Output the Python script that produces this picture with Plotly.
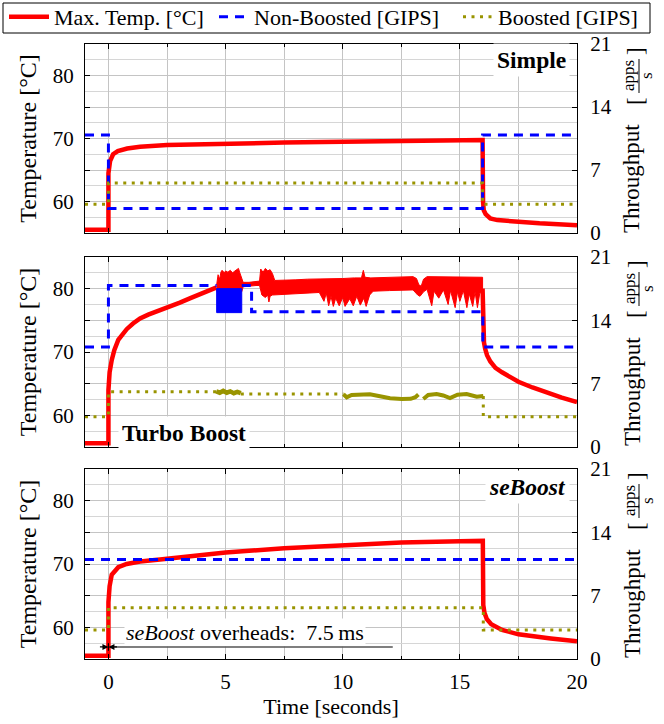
import plotly.graph_objects as go

# ---------------- data ----------------
# time axis limits [s]
time_range = [-1, 20]

# Simple
simple_temp_t = [-1, 0, 0, 0.07, 0.2, 0.4, 0.8, 1.35, 2.5, 5, 7.5, 10, 12.5, 15, 15.97,
                 15.99, 16.02, 16.1, 16.3, 16.6, 17, 18.4, 20]
simple_temp = [55.5, 55.5, 64.5, 66.4, 67.5, 68.0, 68.4, 68.7, 68.95, 69.2, 69.35, 69.5, 69.6, 69.7, 69.75,
               60.0, 58.6, 58.0, 57.3, 57.05, 56.9, 56.55, 56.25]
simple_nonboost_t = [-1, 0, 15.97, 20]
simple_nonboost = [10.9, 2.73, 10.9, 10.9]
simple_boost_t = [-1, 0, 15.97, 20]
simple_boost = [3.2, 5.56, 3.2, 3.2]

# Turbo Boost: smooth temperature before / after the oscillating phase
turbo_temp_rise_t = [-1, 0, 0, 0.05, 0.14, 0.25, 0.42, 0.6, 0.78, 1.05, 1.35, 1.7, 2, 2.5, 3.05, 3.5, 4, 4.62]
turbo_temp_rise = [55.6, 55.6, 64.0, 66.8, 68.7, 70.3, 71.9, 72.9, 73.6, 74.5, 75.3, 75.9, 76.3, 76.9, 77.8,
                   78.5, 79.3, 80.2]
turbo_temp_fall_t = [15.97, 16.0, 16.03, 16.08, 16.16, 16.3, 16.52, 16.8, 17.07, 17.5, 18.1, 18.7, 19.35, 20]
turbo_temp_fall = [80.0, 72.5, 71.5, 70.5, 69.5, 68.5, 67.5, 66.8, 66.2, 65.3, 64.4, 63.6, 62.8, 62.1]
# envelope of the oscillating temperature
turbo_upper_t = [4.62, 4.68, 4.75, 4.8, 4.85, 4.95, 5.0, 5.1, 5.2, 5.3, 5.4, 5.5, 5.55, 5.6, 5.69, 5.75,
                 6.0, 6.3, 6.45, 6.5, 6.6, 6.7, 6.8, 6.9, 7.0, 7.1, 7.5, 8.0, 8.5, 9.0, 9.5, 10.0, 10.5,
                 10.8, 10.88, 10.95, 11.2, 12.0, 13.0, 13.15, 13.25, 13.35, 13.45, 13.6, 14.0, 15.0, 15.97]
turbo_upper = [80.6, 82.2, 81.5, 82.6, 82.9, 82.5, 82.8, 82.6, 82.9, 82.5, 82.8, 83.0, 83.2, 82.6, 81.5, 81.0,
               81.0, 81.1, 81.2, 83.1, 82.6, 83.2, 82.8, 83.0, 82.4, 81.3, 81.3, 81.4, 81.5, 81.5, 81.6, 81.6, 81.7,
               81.7, 82.9, 81.8, 81.7, 81.8, 81.9, 81.6, 80.6, 80.4, 81.5, 81.9, 81.9, 81.9, 81.8]
turbo_lower_t = [4.62, 4.7, 4.8, 4.9, 5.0, 5.69, 5.75, 6.0, 6.3, 6.45, 6.55, 6.7, 6.8, 6.85, 6.9, 7.0, 7.1,
                 8.0, 9.0, 9.2, 9.3, 9.4, 9.5, 9.6, 9.7, 9.85, 10.0, 10.1, 10.3, 10.45, 10.6, 10.75, 10.9,
                 11.0, 11.15, 11.3, 12.0, 13.0, 13.2, 13.3, 13.45, 13.6, 13.8, 13.9, 14.1, 14.3, 14.5, 14.6,
                 14.8, 14.9, 15.0, 15.15, 15.3, 15.4, 15.55, 15.65, 15.75, 15.85, 15.97]
turbo_lower = [79.8, 78.6, 79.4, 79.3, 79.4, 79.5, 80.3, 80.4, 80.5, 80.5, 79.0, 78.6, 79.0, 77.9, 78.8, 79.0, 79.0,
               79.2, 79.4, 78.0, 79.3, 77.3, 78.8, 77.2, 78.5, 77.3, 78.6, 77.2, 78.4, 77.3, 78.8, 77.4, 78.5,
               77.2, 79.0, 79.6, 79.7, 79.8, 79.0, 78.8, 79.5, 79.9, 77.3, 79.6, 78.5, 79.8, 77.5, 79.7,
               77.0, 79.5, 78.0, 79.7, 77.0, 79.2, 77.2, 79.5, 77.0, 79.3, 79.5]
turbo_nonboost_t = [-1, 0, 4.62, None, 5.69, 6.11, 15.98, 20]
turbo_nonboost = [11.05, 17.85, 17.85, None, 17.85, 14.95, 11.05, 11.05]
turbo_nonboost_burst_t = [4.62, 5.69]
turbo_nonboost_burst = [14.85, 17.5]
turbo_boost_t = [-1, 0, 4.6, None, 5.65, 10.03, None, 16.0, 16.0, 20]
turbo_boost = [3.35, 6.1, 6.1, None, 5.86, 5.86, None, 5.64, 3.35, 3.35]
turbo_boost_burst_t = [4.6, 4.75, 4.9, 5.05, 5.2, 5.35, 5.5, 5.65]
turbo_boost_burst = [6.15, 6.0, 6.2, 6.0, 6.15, 5.95, 6.1, 5.95]
turbo_boost_wave_t = [10.03, 10.17, 10.38, 10.74, 11.16, 11.59, 12.02, 12.52, 12.9, 13.1, 13.23, None,
                      13.44, 13.65, 14.01, 14.29, 14.58, 14.9, 15.29, 15.72, 16.0]
turbo_boost_wave = [5.82, 5.49, 5.75, 5.82, 5.82, 5.6, 5.38, 5.30, 5.32, 5.5, 5.80, None,
                    5.30, 5.75, 5.86, 5.7, 5.40, 5.78, 5.86, 5.56, 5.64]

# seBoost
se_temp_t = [-1, 0, 0, 0.05, 0.14, 0.42, 0.78, 1.35, 2.2, 3.9, 5, 7.5, 10, 12.5, 15, 15.98,
             16.0, 16.05, 16.15, 16.34, 16.8, 17.5, 18.88, 20]
se_temp = [55.5, 55.5, 64.0, 66.5, 68.3, 69.5, 70.0, 70.4, 70.7, 71.4, 71.8, 72.5, 73.0, 73.4, 73.6, 73.65,
           63.5, 62.3, 61.3, 60.5, 59.6, 58.9, 58.25, 57.8]
se_nonboost_t = [-1, 20]
se_nonboost = [11.0, 11.0]
se_boost_t = [-1, 0, 16.0, 20]
se_boost = [3.2, 5.67, 3.2, 3.2]

# seBoost decision overhead marker
overhead_temp = 56.9
overhead_label_end = 12.2

# ---------------- styling ----------------
RED = "#ff0000"
BLUE = "#0000ff"
OLIVE = "#999400"
FONT = "Liberation Serif, Times New Roman, serif"
W, H = 664, 724
ML, MR, MT, MB = 85, 87, 44, 65
PW, PH = W - ML - MR, H - MT - MB
panel_px = [(44, 233), (257, 447), (469, 659)]   # top/bottom pixel rows of each panel


def dom(top, bottom):
    return [(H - MB - bottom) / PH, (H - MB - top) / PH]


def px_x(px):
    return (px - ML) / PW


def px_y(py):
    return (H - MB - py) / PH


fig = go.Figure()
red_line = dict(color=RED, width=4.5)
blue_line = dict(color=BLUE, width=3, dash="9px,7px")
olive_line = dict(color=OLIVE, width=3, dash="3px,5.5px")


def add(x, y, xa, ya, **kw):
    kw.setdefault("showlegend", False)
    fig.add_trace(go.Scatter(x=x, y=y, xaxis=xa, yaxis=ya, mode="lines",
                             hoverinfo="skip", **kw))


# panel 1: Simple
add(simple_nonboost_t, simple_nonboost, "x", "y2", line=blue_line, line_shape="hv",
    name="Non-Boosted [GIPS]", showlegend=True, legend="legend2")
add(simple_boost_t, simple_boost, "x", "y2", line=olive_line, line_shape="hv",
    name="Boosted [GIPS]", showlegend=True, legend="legend3")
add(simple_temp_t, simple_temp, "x", "y", line=red_line, name="Max. Temp. [°C]",
    showlegend=True, legend="legend")

# panel 2: Turbo Boost
add(turbo_nonboost_t, turbo_nonboost, "x2", "y4", line=blue_line, line_shape="hv")
bx = [turbo_nonboost_burst_t[0], turbo_nonboost_burst_t[1], turbo_nonboost_burst_t[1],
      turbo_nonboost_burst_t[0], turbo_nonboost_burst_t[0]]
by = [turbo_nonboost_burst[0], turbo_nonboost_burst[0], turbo_nonboost_burst[1],
      turbo_nonboost_burst[1], turbo_nonboost_burst[0]]
add(bx, by, "x2", "y4", line=dict(color=BLUE, width=1), fill="toself", fillcolor=BLUE)
add(turbo_boost_t, turbo_boost, "x2", "y4", line=olive_line, line_shape="hv")
add(turbo_boost_burst_t, turbo_boost_burst, "x2", "y4", line=dict(color=OLIVE, width=4.5))
add(turbo_boost_wave_t, turbo_boost_wave, "x2", "y4", line=dict(color=OLIVE, width=4))
add(turbo_temp_rise_t + [None] + turbo_temp_fall_t, turbo_temp_rise + [None] + turbo_temp_fall,
    "x2", "y3", line=red_line)
add(turbo_upper_t + turbo_lower_t[::-1], turbo_upper + turbo_lower[::-1], "x2", "y3",
    line=dict(color=RED, width=1), fill="toself", fillcolor=RED)

# panel 3: seBoost
add(se_nonboost_t, se_nonboost, "x3", "y6", line=blue_line, line_shape="hv")
add(se_boost_t, se_boost, "x3", "y6", line=olive_line, line_shape="hv")
add(se_temp_t, se_temp, "x3", "y5", line=red_line)

# ---------------- axes ----------------
tick_font = dict(family=FONT, size=21, color="black")
temp_major = [60, 65, 70, 75, 80]
temp_minor = [57.5, 62.5, 67.5, 72.5, 77.5, 82.5]
legend_font = dict(family=FONT, size=22, color="black")


def legend_at(px, item_w):
    return dict(orientation="h", xref="container", yref="container", x=px / W, y=1 - 17 / H,
                xanchor="left", yanchor="middle", borderwidth=0, bgcolor="rgba(0,0,0,0)",
                font=legend_font, itemwidth=item_w)


layout = dict(
    width=W, height=H, margin=dict(l=ML, r=MR, t=MT, b=MB, autoexpand=False),
    paper_bgcolor="white", plot_bgcolor="white",
    font=dict(family=FONT, size=21, color="black"),
    showlegend=True,
    legend=legend_at(4, 40), legend2=legend_at(214, 30), legend3=legend_at(458, 30),
)

for i, (top, bottom) in enumerate(panel_px):
    k = i + 1
    xs = "" if k == 1 else str(k)
    layout["xaxis" + xs] = dict(
        domain=[0, 1], anchor="y" + str(2 * k - 1), range=time_range,
        tickvals=[0, 5, 10, 15, 20], ticks="inside", ticklen=5, tickcolor="black",
        showline=True, linecolor="black", linewidth=1, mirror="ticks",
        showgrid=True, gridcolor="#c4c4c4", gridwidth=1, zeroline=False,
        minor=dict(tickvals=[2.5, 7.5, 12.5, 17.5], showgrid=True, gridcolor="#c4c4c4",
                   ticks="inside", ticklen=3, tickcolor="black"),
        showticklabels=(k == 3), tickfont=tick_font, ticklabelstandoff=4,
        matches=None if k == 1 else "x",
        title=dict(text="Time [seconds]", font=dict(family=FONT, size=22), standoff=3) if k == 3 else None,
    )
    layout["yaxis" + str(2 * k - 1)] = dict(
        domain=dom(top, bottom), anchor="x" + xs, range=[55, 85],
        tickmode="array", tickvals=temp_major, ticktext=["60", "", "70", "", "80"],
        ticks="inside", ticklen=5, tickcolor="black", tickfont=tick_font, ticklabelstandoff=6,
        showline=True, linecolor="black", linewidth=1,
        showgrid=True, gridcolor="#c4c4c4", zeroline=False,
        minor=dict(tickvals=temp_minor, showgrid=True, gridcolor="#d6d6d6", ticks=""),
        title=dict(text="Temperature [°C]", font=dict(family=FONT, size=24), standoff=9),
    )
    layout["yaxis" + str(2 * k)] = dict(
        domain=dom(top, bottom), anchor="x" + xs, overlaying="y" + str(2 * k - 1), side="right",
        range=[0, 21], tickmode="array", tickvals=[0, 7, 14, 21],
        ticks="inside", ticklen=5, tickcolor="black", tickfont=tick_font, ticklabelstandoff=8,
        showline=True, linecolor="black", linewidth=1, showgrid=False, zeroline=False,
    )

fig.update_layout(**layout)

# ---------------- annotations ----------------
ann = []
shapes = []
lbl_font = dict(family=FONT, size=23.5, color="black")
ann.append(dict(xref="x domain", yref="y domain", x=0.985, y=0.915, text="<b>Simple</b>",
                showarrow=False, xanchor="right", yanchor="middle", bgcolor="white",
                borderpad=3, font=lbl_font))
ann.append(dict(xref="x2 domain", yref="y3 domain", x=0.068, y=0.075, text="<b>Turbo Boost</b>",
                showarrow=False, xanchor="left", yanchor="middle", bgcolor="white",
                borderpad=3, font=lbl_font))
ann.append(dict(xref="x3 domain", yref="y5 domain", x=0.985, y=0.905, text="<b><i>seBoost</i></b>",
                showarrow=False, xanchor="right", yanchor="middle", bgcolor="white",
                borderpad=3, font=lbl_font))
ann.append(dict(xref="x3 domain", yref="y5 domain", x=0.08, y=0.14,
                text="<i>seBoost</i> overheads:  7.5\u2009ms",
                showarrow=False, xanchor="left", yanchor="middle", bgcolor="white",
                borderpad=1, font=dict(family=FONT, size=22, color="black")))

# overhead marker: gray leader line and two inward arrow heads at t = 0
ann.append(dict(xref="x3", yref="y5", x=0.25, y=overhead_temp, axref="x3", ayref="y5",
                ax=overhead_label_end, ay=overhead_temp, text="", showarrow=True, arrowhead=0,
                arrowwidth=1.5, arrowcolor="#555555"))
shapes.append(dict(type="line", xref="x3", yref="y5", x0=0, x1=0,
                   y0=overhead_temp - 0.6, y1=overhead_temp + 0.6, line=dict(color="black", width=1.2)))
for dx in (-10, 10):
    ann.append(dict(xref="x3", yref="y5", x=0, y=overhead_temp, ax=dx, ay=0, text="",
                    showarrow=True, arrowhead=2, arrowsize=1, arrowwidth=1.2, arrowcolor="black"))

# legend frame
shapes.append(dict(type="rect", xref="paper", yref="paper", x0=px_x(3), x1=px_x(650),
                   y0=px_y(33), y1=px_y(3), line=dict(color="black", width=1)))

# right axis title: Throughput [apps / s]
for top, bottom in panel_px:
    o = top - 44
    ann.append(dict(xref="paper", yref="paper", x=px_x(632), y=px_y(179 + o), text="Throughput",
                    textangle=-90, showarrow=False, xanchor="center", yanchor="middle",
                    font=dict(family=FONT, size=23)))
    ann.append(dict(xref="paper", yref="paper", x=px_x(636), y=px_y(101 + o), text="[",
                    textangle=-90, showarrow=False, xanchor="center", yanchor="middle",
                    font=dict(family=FONT, size=23)))
    ann.append(dict(xref="paper", yref="paper", x=px_x(636), y=px_y(51 + o), text="]",
                    textangle=-90, showarrow=False, xanchor="center", yanchor="middle",
                    font=dict(family=FONT, size=23)))
    ann.append(dict(xref="paper", yref="paper", x=px_x(629), y=px_y(76 + o), text="apps",
                    textangle=-90, showarrow=False, xanchor="center", yanchor="middle",
                    font=dict(family=FONT, size=17)))
    ann.append(dict(xref="paper", yref="paper", x=px_x(647), y=px_y(76 + o), text="s",
                    textangle=-90, showarrow=False, xanchor="center", yanchor="middle",
                    font=dict(family=FONT, size=17)))
    shapes.append(dict(type="line", xref="paper", yref="paper", x0=px_x(639), x1=px_x(639),
                       y0=px_y(59 + o), y1=px_y(93 + o), line=dict(color="black", width=1)))

fig.update_layout(annotations=ann, shapes=shapes)
fig.write_html("out.html")
